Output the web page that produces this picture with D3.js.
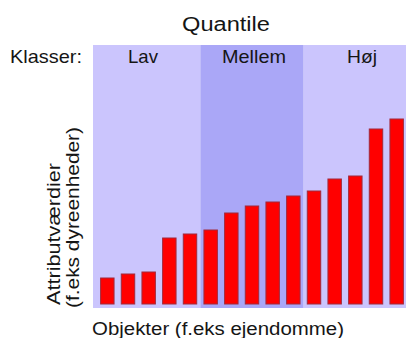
<!DOCTYPE html>
<html><head><meta charset="utf-8">
<script src="https://cdn.jsdelivr.net/npm/d3@7"></script>
<style>body{margin:0;background:#fff}svg{display:block}text{font-family:Arial,"Liberation Sans",sans-serif;fill:#151515}</style>
</head><body>
<script>
const objects = d3.range(1,16).map(String);
const values = [26, 30, 32, 66, 70, 74, 91, 98, 102, 108, 113, 125, 128, 175, 185];
const classes = ["Lav","Mellem","Høj"];
const classColors = ["#cbc5fd","#aaa7f7","#cbc5fd"];
const classLabelWidths = [30, 64, 30];
const classLabelCenters = [143, 254, 362];

const W=408,H=338;
const svg=d3.select("body").append("svg").attr("width",W).attr("height",H);
const x=d3.scaleBand().domain(objects).range([97,407]).paddingInner(0.35).paddingOuter(0.175);
const y=d3.scaleLinear().domain([0,190]).range([304,114]);
const plotL=93, plotR=406, plotT=45, plotB=308;
const per=objects.length/classes.length;
const step=x.step();
const bounds=classes.map((c,i)=>{
  const first=objects[i*per], last=objects[(i+1)*per-1];
  const l = i===0?plotL:x(first)-(step-x.bandwidth())/2;
  const r = i===classes.length-1?plotR:x(last)+x.bandwidth()+(step-x.bandwidth())/2;
  return {c,l,r,color:classColors[i],cx:classLabelCenters[i],w:classLabelWidths[i]};
});
svg.selectAll("rect.cls").data(bounds).join("rect").attr("class","cls")
  .attr("x",d=>d.l).attr("width",d=>d.r-d.l).attr("y",plotT).attr("height",plotB-plotT).attr("fill",d=>d.color);
svg.selectAll("text.cls").data(bounds).join("text").attr("class","cls")
  .attr("x",d=>d.cx-d.w/2).attr("y",63)
  .attr("textLength",d=>d.w).attr("lengthAdjust","spacingAndGlyphs")
  .style("font-size","19px").text(d=>d.c);
svg.selectAll("rect.bar").data(values).join("rect").attr("class","bar")
  .attr("x",(d,i)=>x(objects[i])).attr("width",x.bandwidth())
  .attr("y",d=>y(d)).attr("height",d=>y(0)-y(d))
  .attr("fill","#ff0000").attr("stroke","#a02a3c").attr("stroke-width",1);
function label(t,xx,yy,size,len,rot){
  const el=svg.append("text").style("font-size",size+"px").text(t)
    .attr("textLength",len).attr("lengthAdjust","spacingAndGlyphs");
  if(rot) el.attr("transform",`translate(${xx},${yy}) rotate(-90)`);
  else el.attr("x",xx).attr("y",yy);
}
label("Quantile",182,31,20,88);
label("Klasser:",10,63,19,72);
label("Objekter (f.eks ejendomme)",92,335,18,252);
label("Attributværdier",59.5,305,18,142,true);
label("(f.eks dyreenheder)",78.5,308,18,181,true);
</script>
</body></html>
